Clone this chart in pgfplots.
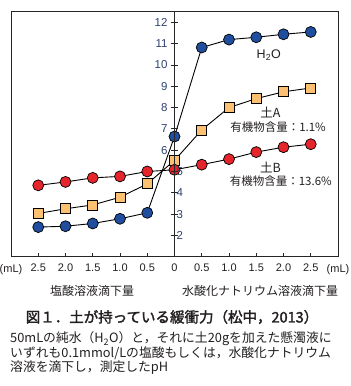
\documentclass[border=0pt]{standalone}
\usepackage{pgfplots}
\pgfplotsset{compat=1.18}
\usepackage{fontspec}
\setmainfont{Liberation Sans}
\newfontfamily\jp{Noto Sans CJK JP}
\newfontfamily\jpb[FakeBold=2]{Noto Sans CJK JP}
\definecolor{bluec}{HTML}{1F4E9E}
\definecolor{redc}{HTML}{E5242C}
\definecolor{orc}{HTML}{FBC072}
\definecolor{tickc}{HTML}{2E4270}
\definecolor{txt}{HTML}{231F20}
\begin{document}
\begin{tikzpicture}
\begin{axis}[at={(0pt,0pt)}, anchor=south west, scale only axis,
  width=327pt, height=245pt, xmin=-3, xmax=3, ymin=1, ymax=12.5,
  xtick={-3,-2.5,-2,-1.5,-1,-0.5,0,0.5,1,1.5,2,2.5,3},
  xticklabels={(mL),2.5,2.0,1.5,1.0,0.5,0,0.5,1.0,1.5,2.0,2.5,(mL)},
  xtick pos=bottom, tick align=inside, major tick length=4pt,
  ytick=\empty,
  tick label style={font=\fontsize{11}{11}\selectfont, color=txt},
  xticklabel style={yshift=-4pt},
  /pgf/number format/assume math mode=true,
  axis line style={line width=0.9pt, black!85},
  tick style={line width=0.8pt, black!85},
  clip=false]
\addplot[black, line width=0.9pt, mark=*, mark size=5.5pt,
  mark options={fill=bluec, draw=black, line width=0.7pt}] coordinates {
  (-2.5,2.39) (-2.0,2.43) (-1.5,2.56) (-1.0,2.78) (-0.5,3.06) (0,6.64)
  (0.5,10.82) (1.0,11.19) (1.5,11.30) (2.0,11.44) (2.5,11.55)};
\addplot[black, line width=0.9pt, mark=square*, mark size=5pt,
  mark options={fill=orc, draw=black, line width=0.7pt}] coordinates {
  (-2.5,3.03) (-2.0,3.25) (-1.5,3.43) (-1.0,3.79) (-0.5,4.42) (0,5.52)
  (0.5,6.95) (1.0,8.00) (1.5,8.42) (2.0,8.74) (2.5,8.92)};
\addplot[black, line width=0.9pt, mark=*, mark size=5.5pt,
  mark options={fill=redc, draw=black, line width=0.7pt}] coordinates {
  (-2.5,4.35) (-2.0,4.51) (-1.5,4.70) (-1.0,4.77) (-0.5,5.00) (0,5.08)
  (0.5,5.32) (1.0,5.58) (1.5,5.91) (2.0,6.14) (2.5,6.28)};
\node[font=\fontsize{12.5}{12.5}\selectfont, text=txt] at (axis cs:1.73,10.46) {H\textsubscript{2}O};
\node[font=\jp\fontsize{12.5}{12.5}\selectfont, text=txt] at (axis cs:1.76,7.75) {土A};
\node[font=\jp\fontsize{11.5}{11.5}\selectfont, text=txt] at (axis cs:1.90,7.10) {有機物含量：1.1\%};
\node[font=\jp\fontsize{12.5}{12.5}\selectfont, text=txt] at (axis cs:1.76,5.18) {土B};
\node[font=\jp\fontsize{11.5}{11.5}\selectfont, text=txt] at (axis cs:1.95,4.57) {有機物含量：13.6\%};
\end{axis}
\begin{axis}[at={(0pt,0pt)}, anchor=south west, scale only axis,
  width=327pt, height=245pt, xmin=-3, xmax=3, ymin=1, ymax=12.5,
  axis x line=none, axis y line=center,
  axis line style={-, line width=0.9pt, black!85},
  ytick={6,7,8,9,10,11,12}, extra y ticks={2,3,4,5},
  extra y tick style={yticklabel style={anchor=west, xshift=2pt}},
  tick align=center, major tick length=7pt,
  tick style={line width=0.8pt, black!85},
  tick label style={font=\fontsize{11.5}{11.5}\selectfont, color=tickc},
  /pgf/number format/assume math mode=true]
\end{axis}
\node[font=\jp\fontsize{12}{12}\selectfont, text=txt] at (81pt,-34.3pt) {塩酸溶液滴下量};
\node[font=\jp\fontsize{12}{12}\selectfont, text=txt] at (249pt,-34.3pt) {水酸化ナトリウム溶液滴下量};
\node[font=\jpb\fontsize{14.5}{14.5}\selectfont, text=txt] at (161pt,-60.3pt) {図１．土が持っている緩衝力（松中，2013）};
\node[font=\jp\fontsize{12.8}{12.8}\selectfont, text=txt, anchor=west, inner sep=0pt] at (-1pt,-82.3pt) {50mLの純水（H\textsubscript{2}O）と，それに土20gを加えた懸濁液に};
\node[font=\jp\fontsize{12.8}{12.8}\selectfont, text=txt, anchor=west, inner sep=0pt] at (-1pt,-96.3pt) {いずれも0.1mmol/Lの塩酸もしくは，水酸化ナトリウム};
\node[font=\jp\fontsize{12.8}{12.8}\selectfont, text=txt, anchor=west, inner sep=0pt] at (-1pt,-111.3pt) {溶液を滴下し，測定したpH};
\pgfresetboundingbox
\useasboundingbox (-11pt,-129.3pt) rectangle (340pt,256.7pt);
\end{tikzpicture}
\end{document}
